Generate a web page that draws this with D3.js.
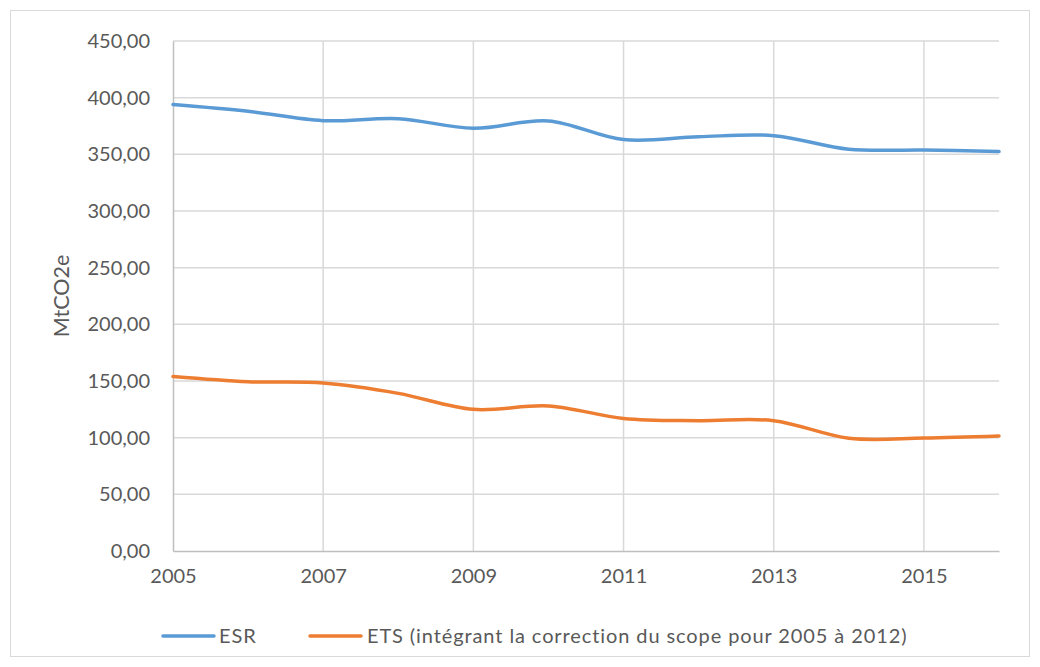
<!DOCTYPE html>
<html><head><meta charset="utf-8">
<script src="https://cdn.jsdelivr.net/npm/d3@7"></script>
<style>body{margin:0;background:#fff}svg{display:block}</style>
</head><body>
<script>
const years = [2005,2006,2007,2008,2009,2010,2011,2012,2013,2014,2015,2016];
const esr = [394,388,379.7,381.5,373,379.5,363,365.5,366.5,354.5,353.8,352.4];
const ets = [154,149.4,148.2,139.1,125,128,117,115,115,99.5,99.7,101.5];
const yTicks = [0,50,100,150,200,250,300,350,400,450];
const xTicks = [2005,2007,2009,2011,2013,2015];
const seriesNames = ["ESR","ETS (intégrant la correction du scope pour 2005 à 2012)"];
const colors = ["#5b9bd5","#ed7d31"];

const W=1040,H=667;
const svg=d3.select("body").append("svg").attr("width",W).attr("height",H);
const font="Lato, 'Open Sans', sans-serif";
svg.append("rect").attr("x",10.5).attr("y",10.5).attr("width",1019).attr("height",646)
  .attr("fill","#fff").attr("stroke","#d9d9d9").attr("stroke-width",1);

const x=d3.scaleLinear().domain([2005,2016]).range([173,999]);
const y=d3.scaleLinear().domain([0,450]).range([551,41]);

// gridlines
const g=svg.append("g");
g.selectAll(".hg").data(yTicks.filter(d=>d>0)).join("line")
  .attr("x1",x(2005)).attr("x2",x(2016)).attr("y1",d=>y(d)).attr("y2",d=>y(d))
  .attr("stroke","#d9d9d9").attr("stroke-width",1.5);
g.selectAll(".vg").data(xTicks.filter(d=>d>2005)).join("line")
  .attr("y1",y(0)).attr("y2",y(450)).attr("x1",d=>x(d)).attr("x2",d=>x(d))
  .attr("stroke","#d9d9d9").attr("stroke-width",1.5);

// axes
const ya=svg.append("g").attr("transform",`translate(${x(2005)},0)`)
  .call(d3.axisLeft(y).tickValues(yTicks).tickSize(0).tickPadding(23)
    .tickFormat(d=>d3.format(".2f")(d).replace(".",",")));
ya.select(".domain").attr("stroke","#bfbfbf").attr("stroke-width",1.5);
ya.selectAll("text").attr("font-family",font).attr("font-size",20).attr("fill","#595959");

const xa=svg.append("g").attr("transform",`translate(0,${y(0)})`)
  .call(d3.axisBottom(x).tickValues(xTicks).tickSize(0).tickPadding(18).tickFormat(d3.format("d")));
xa.select(".domain").attr("stroke","#bfbfbf").attr("stroke-width",1.5);
xa.selectAll("text").attr("font-family",font).attr("font-size",20).attr("fill","#595959");

// y title
svg.append("text").attr("transform",`translate(69,${(y(0)+y(450))/2}) rotate(-90)`)
  .attr("text-anchor","middle").attr("font-family",font).attr("font-size",21.5).attr("fill","#595959")
  .text("MtCO2e");

// lines
const line=d3.line().x((d,i)=>x(years[i])).y(d=>y(d)).curve(d3.curveCatmullRom.alpha(0));
[esr,ets].forEach((s,i)=>{
  svg.append("path").attr("d",line(s)).attr("fill","none").attr("stroke",colors[i])
    .attr("stroke-width",3.5).attr("stroke-linecap","round");
});

// legend
const leg=[{x0:163,x1:214,tx:219},{x0:310,x1:361,tx:367}];
leg.forEach((l,i)=>{
  svg.append("line").attr("x1",l.x0).attr("x2",l.x1).attr("y1",636).attr("y2",636)
    .attr("stroke",colors[i]).attr("stroke-width",3.5).attr("stroke-linecap","round");
  svg.append("text").attr("x",l.tx).attr("y",636).attr("dy","0.35em")
    .attr("font-family",font).attr("font-size",20).attr("letter-spacing",0.9)
    .attr("fill","#595959").text(seriesNames[i]);
});
</script>
</body></html>
